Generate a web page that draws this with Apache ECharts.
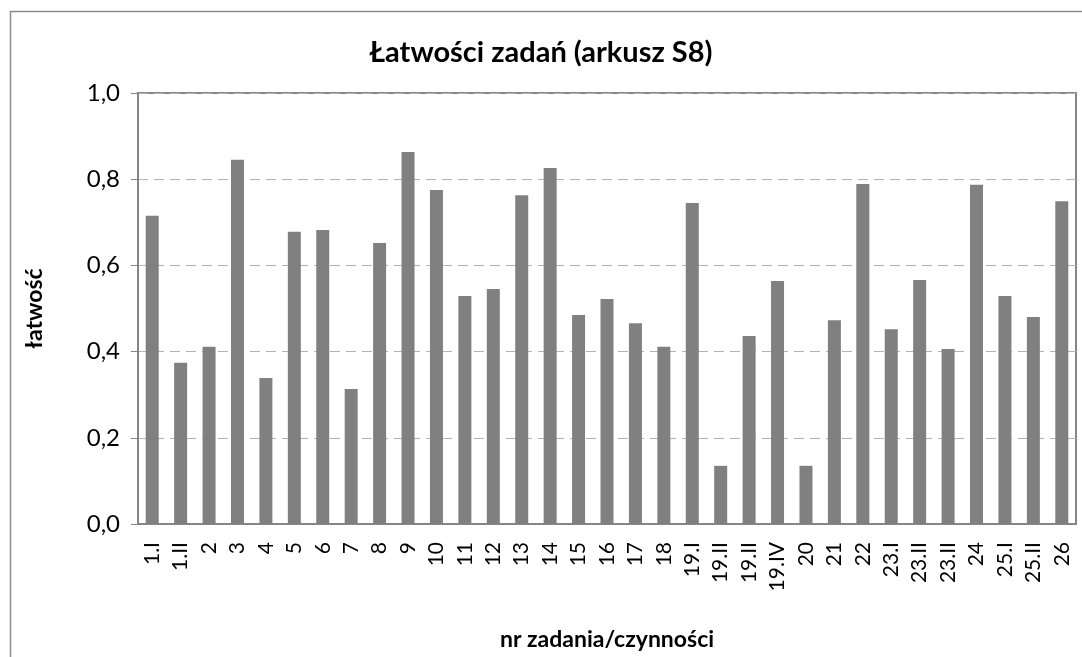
<!DOCTYPE html>
<html>
<head>
<meta charset="utf-8">
<script src="https://cdn.jsdelivr.net/npm/echarts@6/dist/echarts.min.js"></script>
<style>
html,body{margin:0;padding:0;background:#fff;}
#chart{width:1082px;height:657px;}
</style>
</head>
<body>
<div id="chart"></div>
<script>
const categories = ["1.I","1.II","2","3","4","5","6","7","8","9","10","11","12","13","14","15","16","17","18","19.I","19.II","19.II","19.IV","20","21","22","23.I","23.II","23.II","24","25.I","25.II","26"];
const values = [0.715,0.374,0.411,0.845,0.339,0.678,0.682,0.313,0.652,0.863,0.775,0.529,0.545,0.763,0.826,0.485,0.522,0.466,0.411,0.745,0.135,0.436,0.564,0.135,0.473,0.789,0.452,0.566,0.406,0.787,0.529,0.480,0.749];
const yTicks = [0,0.2,0.4,0.6,0.8,1.0];

const FONT = 'Lato, "Open Sans", sans-serif';
const chart = echarts.init(document.getElementById('chart'));
chart.setOption({
  animation: false,
  backgroundColor: '#fff',
  graphic: [{
    type: 'rect',
    shape: {x: 10.5, y: 11.5, width: 1090, height: 700},
    style: {fill: 'none', stroke: '#8c8c8c', lineWidth: 1.5},
    silent: true
  }],
  title: {
    text: 'Łatwości zadań (arkusz S8)',
    left: 'center',
    top: 33,
    textStyle: {fontFamily: FONT, fontSize: 29, fontWeight: 'bold', color: '#000'}
  },
  grid: {
    left: 138, right: 6, top: 93, bottom: 133,
    show: true, borderColor: '#868686', borderWidth: 2, backgroundColor: 'transparent'
  },
  xAxis: {
    type: 'category',
    data: categories,
    name: 'nr zadania/czynności',
    nameLocation: 'middle',
    nameGap: 104,
    nameTextStyle: {fontFamily: FONT, fontSize: 23, fontWeight: 'bold', color: '#000'},
    axisLine: {show: true, lineStyle: {color: '#868686', width: 2}},
    axisTick: {show: false},
    axisLabel: {rotate: 90, interval: 0, fontFamily: FONT, fontSize: 21, color: '#000', margin: 18}
  },
  yAxis: {
    type: 'value',
    min: 0, max: 1, interval: 0.2,
    name: 'łatwość',
    nameLocation: 'middle',
    nameGap: 92,
    nameRotate: 90,
    nameTextStyle: {fontFamily: FONT, fontSize: 23, fontWeight: 'bold', color: '#000'},
    axisLine: {show: true, lineStyle: {color: '#868686', width: 2}},
    axisTick: {show: true, length: 7, lineStyle: {color: '#868686', width: 1}},
    axisLabel: {
      fontFamily: FONT, fontSize: 24, color: '#000', margin: 18,
      formatter: v => yTicks.includes(+v.toFixed(1)) ? v.toFixed(1).replace('.', ',') : ''
    },
    splitLine: {show: true, lineStyle: {color: '#b4b4b4', type: [10, 6], width: 1.2}}
  },
  series: [{
    type: 'bar',
    data: values,
    barWidth: 13,
    itemStyle: {color: '#808080'}
  }]
});
</script>
</body>
</html>
